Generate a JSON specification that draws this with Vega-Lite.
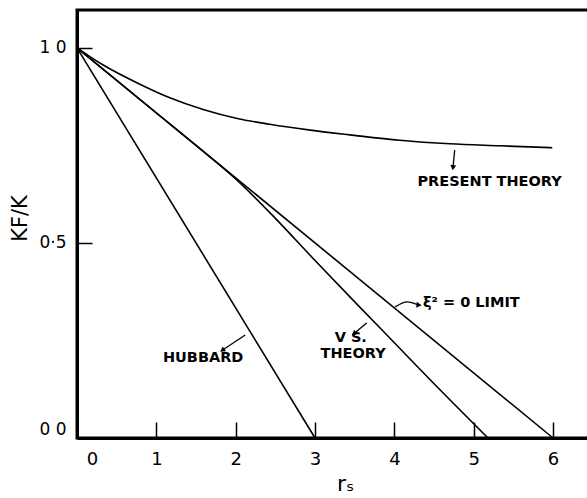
{
  "$schema": "https://vega.github.io/schema/vega-lite/v6.json",
  "width": 514,
  "height": 428,
  "autosize": "none",
  "padding": {"left": 77, "top": 10, "right": 0, "bottom": 60},
  "background": "white",
  "config": {
    "font": "DejaVu Sans",
    "view": {"stroke": "black", "strokeWidth": 3}
  },
  "datasets": {
    "curves": [
      {"curve": "present", "r": 0, "k": 1.0},
      {"curve": "present", "r": 0.33, "k": 0.956},
      {"curve": "present", "r": 0.76, "k": 0.91},
      {"curve": "present", "r": 1.17, "k": 0.872},
      {"curve": "present", "r": 1.59, "k": 0.842},
      {"curve": "present", "r": 2.02, "k": 0.819},
      {"curve": "present", "r": 2.43, "k": 0.804},
      {"curve": "present", "r": 2.94, "k": 0.789},
      {"curve": "present", "r": 3.44, "k": 0.777},
      {"curve": "present", "r": 4.07, "k": 0.763},
      {"curve": "present", "r": 4.7, "k": 0.754},
      {"curve": "present", "r": 5.33, "k": 0.749},
      {"curve": "present", "r": 5.99, "k": 0.744},
      {"curve": "vs", "r": 0, "k": 1.0},
      {"curve": "vs", "r": 1.0, "k": 0.833},
      {"curve": "vs", "r": 1.5, "k": 0.75},
      {"curve": "vs", "r": 2.0, "k": 0.664},
      {"curve": "vs", "r": 2.5, "k": 0.563},
      {"curve": "vs", "r": 3.0, "k": 0.455},
      {"curve": "vs", "r": 3.5, "k": 0.349},
      {"curve": "vs", "r": 4.0, "k": 0.244},
      {"curve": "vs", "r": 4.5, "k": 0.139},
      {"curve": "vs", "r": 5.18, "k": 0.0},
      {"curve": "limit", "r": 0, "k": 1.0},
      {"curve": "limit", "r": 6.0, "k": 0.0},
      {"curve": "hubbard", "r": 0, "k": 1.0},
      {"curve": "hubbard", "r": 3.0, "k": 0.0}
    ],
    "labels": [
      {"text": "PRESENT  THEORY", "r": 5.2, "k": 0.656},
      {"text": "ξ² = 0 LIMIT", "r": 4.97, "k": 0.346},
      {"text": "V S.", "r": 3.45, "k": 0.256},
      {"text": "THEORY", "r": 3.48, "k": 0.215},
      {"text": "HUBBARD", "r": 1.59, "k": 0.205}
    ],
    "arrows": [
      {"arrow": "present", "r": 4.76, "k": 0.738},
      {"arrow": "present", "r": 4.74, "k": 0.695},
      {"arrow": "limit", "r": 4.01, "k": 0.336},
      {"arrow": "limit", "r": 4.16, "k": 0.349},
      {"arrow": "limit", "r": 4.3, "k": 0.341},
      {"arrow": "vs", "r": 3.65, "k": 0.295},
      {"arrow": "vs", "r": 3.5, "k": 0.269},
      {"arrow": "hubbard", "r": 2.12, "k": 0.264},
      {"arrow": "hubbard", "r": 1.84, "k": 0.226}
    ]
  },
  "layer": [
    {
      "data": {"name": "curves"},
      "mark": {"type": "line", "color": "black", "strokeWidth": 1.6, "interpolate": "monotone"},
      "encoding": {
        "x": {
          "field": "r", "type": "quantitative",
          "scale": {"domain": [0, 6.478], "nice": false, "zero": false},
          "axis": {
            "title": "rₛ",
            "titleFont": "DejaVu Sans",
            "titleFontSize": 22,
            "titleFontWeight": "normal",
            "titleColor": "black",
            "titleX": 268,
            "titleY": 52,
            "titleBaseline": "alphabetic",
            "titleAlign": "center",
            "values": [0, 1, 2, 3, 4, 5, 6],
            "format": "d",
            "labelFont": "DejaVu Sans",
            "labelFontSize": 18,
            "labelColor": "black",
            "labelPadding": 28,
            "labelFlush": false,
            "labelOverlap": false,
            "labelOffset": {"condition": {"test": "datum.value == 0", "value": 15}, "value": 0},
            "tickSize": -16,
            "tickWidth": 1.5,
            "tickColor": "black",
            "tickOpacity": {"condition": {"test": "datum.value == 0", "value": 0}, "value": 1},
            "domainColor": "black",
            "domainWidth": 3,
            "grid": false
          }
        },
        "y": {
          "field": "k", "type": "quantitative",
          "scale": {"domain": [0, 1.097], "nice": false},
          "axis": {
            "title": "KF/K",
            "titleFont": "DejaVu Sans",
            "titleFontSize": 21,
            "titleFontWeight": "normal",
            "titleColor": "black",
            "titleX": -57,
            "titleY": 208,
            "titleBaseline": "middle",
            "titleAlign": "center",
            "titleAngle": -90,
            "values": [0, 0.5, 1],
            "labelExpr": "datum.value == 1 ? '1 0' : datum.value == 0.5 ? '0·5' : '0 0'",
            "labelFont": "DejaVu Sans",
            "labelFontSize": 17,
            "labelColor": "black",
            "labelPadding": 26,
            "labelFlush": false,
            "labelOverlap": false,
            "labelBaseline": {"condition": {"test": "datum.value == 0", "value": "bottom"}, "value": "middle"},
            "tickSize": -15,
            "tickWidth": 1.5,
            "tickColor": "black",
            "tickOpacity": {"condition": {"test": "datum.value == 0", "value": 0}, "value": 1},
            "domainColor": "black",
            "domainWidth": 3,
            "grid": false
          }
        },
        "detail": {"field": "curve", "type": "nominal"}
      }
    },
    {
      "data": {"name": "arrows"},
      "mark": {"type": "line", "color": "black", "strokeWidth": 1.3, "interpolate": "monotone"},
      "encoding": {
        "x": {"field": "r", "type": "quantitative"},
        "y": {"field": "k", "type": "quantitative"},
        "detail": {"field": "arrow", "type": "nominal"}
      }
    },
    {
      "data": {"values": [{"arrow": "present", "r": 4.74, "k": 0.695}]},
      "mark": {"type": "point", "shape": "triangle", "filled": true, "color": "black", "opacity": 1, "size": 35, "angle": 187},
      "encoding": {"x": {"field": "r", "type": "quantitative"}, "y": {"field": "k", "type": "quantitative"}}
    },
    {
      "data": {"values": [{"arrow": "limit", "r": 4.3, "k": 0.341}]},
      "mark": {"type": "point", "shape": "triangle", "filled": true, "color": "black", "opacity": 1, "size": 35, "angle": 95},
      "encoding": {"x": {"field": "r", "type": "quantitative"}, "y": {"field": "k", "type": "quantitative"}}
    },
    {
      "data": {"values": [{"arrow": "vs", "r": 3.5, "k": 0.269}]},
      "mark": {"type": "point", "shape": "triangle", "filled": true, "color": "black", "opacity": 1, "size": 35, "angle": 230},
      "encoding": {"x": {"field": "r", "type": "quantitative"}, "y": {"field": "k", "type": "quantitative"}}
    },
    {
      "data": {"values": [{"arrow": "hubbard", "r": 1.84, "k": 0.226}]},
      "mark": {"type": "point", "shape": "triangle", "filled": true, "color": "black", "opacity": 1, "size": 35, "angle": 236},
      "encoding": {"x": {"field": "r", "type": "quantitative"}, "y": {"field": "k", "type": "quantitative"}}
    },
    {
      "data": {"name": "labels"},
      "mark": {"type": "text", "font": "DejaVu Sans", "fontWeight": "bold", "fontSize": 14.5, "color": "black", "align": "center", "baseline": "middle"},
      "encoding": {
        "x": {"field": "r", "type": "quantitative"},
        "y": {"field": "k", "type": "quantitative"},
        "text": {"field": "text", "type": "nominal"}
      }
    }
  ]
}
